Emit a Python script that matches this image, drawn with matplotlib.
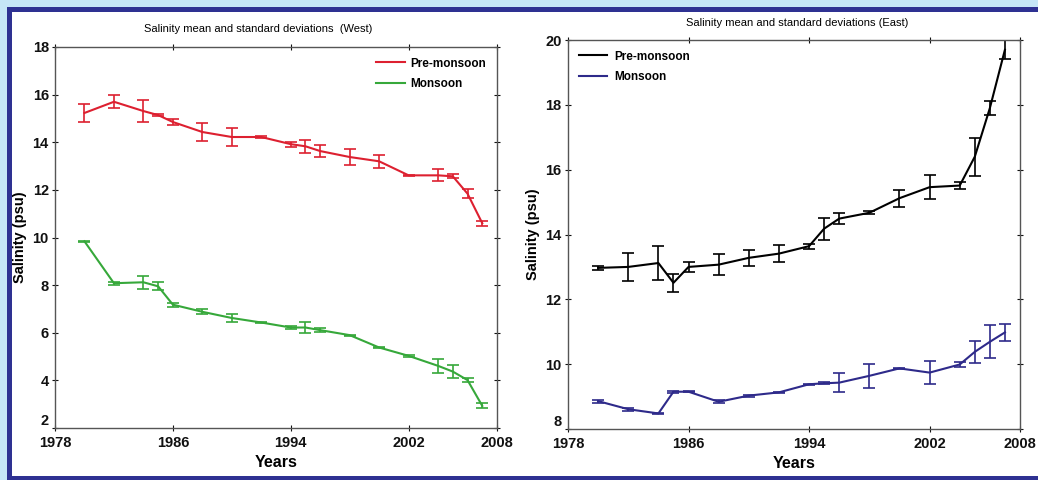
import matplotlib.pyplot as plt
import numpy as np
from matplotlib.patches import Rectangle
from matplotlib.lines import Line2D

# West panel
years_w = [1980, 1982, 1984, 1985, 1986, 1988, 1990, 1992, 1994, 1995, 1996,
           1998, 2000, 2002, 2004, 2005, 2006, 2007]
pre_w = [15.23, 15.70, 15.31, 15.14, 14.85, 14.43, 14.22, 14.22, 13.92, 13.83,
         13.63, 13.38, 13.20, 12.61, 12.61, 12.57, 11.84, 10.60]
pre_w_sd = [0.36, 0.28, 0.48, 0.05, 0.13, 0.39, 0.36, 0.05, 0.10, 0.28,
            0.26, 0.34, 0.27, 0.02, 0.25, 0.08, 0.18, 0.10]
mon_w = [9.84, 8.08, 8.12, 7.95, 7.18, 6.88, 6.62, 6.43, 6.22, 6.22,
         6.11, 5.90, 5.38, 5.03, 4.61, 4.37, 4.01, 2.93]
mon_w_sd = [0.02, 0.06, 0.27, 0.17, 0.08, 0.10, 0.18, 0.04, 0.05, 0.23,
            0.07, 0.02, 0.03, 0.03, 0.28, 0.28, 0.07, 0.10]

# East panel
years_e = [1980, 1982, 1984, 1985, 1986, 1988, 1990, 1992, 1994, 1995, 1996,
           1998, 2000, 2002, 2004, 2005, 2006, 2007]
pre_e = [12.97, 13.00, 13.12, 12.51, 13.00, 13.07, 13.28, 13.41, 13.64, 14.18,
         14.49, 14.67, 15.12, 15.46, 15.51, 16.40, 17.90, 19.70]
pre_e_sd = [0.05, 0.42, 0.52, 0.27, 0.15, 0.32, 0.24, 0.26, 0.08, 0.34,
            0.18, 0.04, 0.26, 0.37, 0.10, 0.59, 0.22, 0.30]
mon_e = [8.86, 8.61, 8.48, 9.15, 9.15, 8.84, 9.03, 9.13, 9.38, 9.41,
         9.43, 9.64, 9.87, 9.74, 9.99, 10.38, 10.69, 10.98]
mon_e_sd = [0.05, 0.05, 0.02, 0.03, 0.02, 0.05, 0.03, 0.02, 0.02, 0.03,
            0.29, 0.36, 0.02, 0.35, 0.08, 0.35, 0.51, 0.25]

xticks = [1978, 1986, 1994, 2002, 2008]

plt.rcParams['font.family'] = ['Liberation Sans', 'DejaVu Sans']

W, H = 1038, 480
fig = plt.figure(figsize=(W / 100, H / 100), dpi=100)
fig.patch.set_facecolor('#c6e6f7')
# navy frame + white page
fig.add_artist(Rectangle((7 / W, 0), 1, 1 - 7 / H, transform=fig.transFigure,
                         facecolor='#2e3192', edgecolor='none', zorder=-2))
fig.add_artist(Rectangle((12 / W, 4 / H), 1, 1 - 16 / H, transform=fig.transFigure,
                         facecolor='white', edgecolor='none', zorder=-1))

ax1 = fig.add_axes([55 / W, 1 - 428 / H, 442 / W, 381 / H])
ax2 = fig.add_axes([568 / W, 1 - 429 / H, 452 / W, 389 / H])

red = '#dd2030'
green = '#36a83a'
navy = '#2e2a8a'

kw = dict(lw=1.5, capsize=4, elinewidth=1.2, capthick=1.2)
ax1.errorbar(years_w, pre_w, yerr=pre_w_sd, color=red, **kw)
ax1.errorbar(years_w, mon_w, yerr=mon_w_sd, color=green, **kw)
ax2.errorbar(years_e, pre_e, yerr=pre_e_sd, color='black', **kw)
ax2.errorbar(years_e, mon_e, yerr=mon_e_sd, color=navy, **kw)

ax1.set_ylim(2, 18)
ax1.set_yticks(np.arange(2, 19, 2))
ax2.set_ylim(8, 20)
ax2.set_yticks(np.arange(8, 21, 2))

for ax in (ax1, ax2):
    ax.set_xlim(1978, 2008)
    ax.set_xticks(xticks)
    ax.tick_params(direction='inout', length=5, width=0.8, top=True, right=True,
                   labelsize=10.5, pad=2, colors='#111111')
    ax.tick_params(axis='x', pad=3)
    for lab in ax.get_xticklabels() + ax.get_yticklabels():
        lab.set_fontweight('bold')
    # lowest y label sits just above the corner, as in the source figure
    ax.get_yticklabels()[0].set_verticalalignment('bottom')
    for s in ax.spines.values():
        s.set_color('#555555')
        s.set_linewidth(1.0)
    ax.set_xlabel('Years', fontsize=11.5, fontweight='bold', labelpad=4)
    ax.set_ylabel('Salinity (psu)', fontsize=10.5, fontweight='bold', labelpad=4)

h1 = [Line2D([], [], color=red, lw=1.5), Line2D([], [], color=green, lw=1.5)]
h2 = [Line2D([], [], color='black', lw=1.5), Line2D([], [], color=navy, lw=1.5)]
labels = ['Pre-monsoon', 'Monsoon']
leg1 = ax1.legend(h1, labels, loc='upper right', frameon=False, fontsize=8.5,
                  handlelength=2.4, handletextpad=0.5, labelspacing=0.7)
leg2 = ax2.legend(h2, labels, loc='upper left', frameon=False, fontsize=8.5,
                  handlelength=2.4, handletextpad=0.6, labelspacing=0.7)
for leg in (leg1, leg2):
    for t in leg.get_texts():
        t.set_fontweight('bold')

fig.text(258 / W, 1 - 29 / H, 'Salinity mean and standard deviations  (West)',
         ha='center', va='center', fontsize=8)
fig.text(797 / W, 1 - 23 / H, 'Salinity mean and standard deviations (East)',
         ha='center', va='center', fontsize=8)

fig.savefig('out.png', dpi=100, facecolor=fig.get_facecolor())
